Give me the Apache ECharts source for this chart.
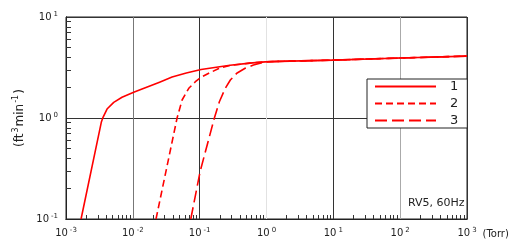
<!DOCTYPE html>
<html><head><meta charset="utf-8">
<script src="https://cdn.jsdelivr.net/npm/echarts@6/dist/echarts.min.js"></script>
<style>html,body{margin:0;padding:0;background:#fff}#c{width:516px;height:242px}</style>
</head><body><div id="c"></div>
<script>
// Curve 1 (solid)
var curve1X = [0.00168, 0.003373, 0.003581, 0.004111, 0.005176, 0.006887, 0.0103, 0.01374, 0.02512, 0.03864, 0.0631, 0.105, 0.1995, 0.2851, 0.5623, 0.9528, 1.585, 10, 100, 1000];
var curve1Y = [0.1, 0.906, 1.016, 1.227, 1.429, 1.603, 1.795, 1.936, 2.265, 2.541, 2.786, 3.02, 3.221, 3.327, 3.491, 3.597, 3.639, 3.741, 3.926, 4.102];
// Curve 2 (short dash)
var curve2X = [0.02223, 0.04592, 0.05458, 0.06871, 0.0863, 0.105, 0.1368, 0.1932, 0.2818, 0.5623, 0.9528, 1.585, 10, 100, 1000];
var curve2Y = [0.1, 1.0, 1.507, 1.968, 2.286, 2.529, 2.773, 3.09, 3.318, 3.491, 3.597, 3.639, 3.741, 3.926, 4.102];
// Curve 3 (long dash)
var curve3X = [0.07362, 0.1014, 0.166, 0.1972, 0.2415, 0.2877, 0.3589, 0.4786, 0.6368, 0.9528, 1.585, 10, 100, 1000];
var curve3Y = [0.1, 0.2938, 1.0, 1.449, 1.968, 2.377, 2.773, 3.105, 3.35, 3.597, 3.639, 3.741, 3.926, 4.102];
var seriesNames = ['1', '2', '3'];
var xMinorTicks = [];
[-3, -2, -1, 0, 1, 2].forEach(function (e) { for (var k = 2; k <= 9; k++) xMinorTicks.push(k * Math.pow(10, e)); });
var yMinorTicks = [];
[-1, 0].forEach(function (e) { for (var k = 2; k <= 9; k++) yMinorTicks.push(k * Math.pow(10, e)); });

function zip(xs, ys) { return xs.map(function (x, i) { return [x, ys[i]]; }); }
function expLabel(v) { return '{b|10}{s|' + Math.round(Math.log10(v)) + '}'; }
var labelRich = {
  b: { fontFamily: 'DejaVu Sans', fontSize: 10, color: '#222' },
  s: { fontFamily: 'DejaVu Sans', fontSize: 7, color: '#222', verticalAlign: 'top', padding: [0, 0, 6, 2] }
};
var chart = echarts.init(document.getElementById('c'), null, { renderer: 'canvas' });
chart.setOption({
  animation: false,
  backgroundColor: '#fff',
  grid: { left: 66, right: 49, top: 17, bottom: 23, show: true, borderColor: '#222', borderWidth: 1 },
  legend: {
    left: 367, top: 79, orient: 'vertical',
    itemWidth: 61, itemHeight: 10, itemGap: 4,
    padding: [1, 9, 1, 7],
    backgroundColor: '#fff', borderColor: '#222', borderWidth: 1, borderRadius: 0,
    itemStyle: { opacity: 0 },
    textStyle: { fontFamily: 'DejaVu Sans', fontSize: 13, color: '#222', lineHeight: 12, padding: [0, 0, 0, 9] },
    data: seriesNames
  },
  graphic: [{
    type: 'text', left: 408, top: 198,
    style: { text: 'RV5, 60Hz', fontFamily: 'DejaVu Sans', fontSize: 11, fill: '#222' }
  }],
  xAxis: [{
    type: 'log', logBase: 10, min: 0.001, max: 1000, interval: 1,
    name: '(Torr)', nameLocation: 'end', nameGap: 11,
    nameTextStyle: { fontFamily: 'DejaVu Sans', fontSize: 10, color: '#222', verticalAlign: 'top', padding: [10, 0, 0, 0] },
    axisLine: { show: true, lineStyle: { color: '#222', width: 1 } },
    axisTick: { show: false },
    axisLabel: { margin: 8, formatter: expLabel, rich: labelRich },
    splitLine: { show: true, lineStyle: { color: ['#333', '#777', '#333', '#e2e2e2', '#333', '#aaa', '#333'], width: 1 } }
  }, {
    type: 'log', logBase: 10, min: 0.001, max: 1000, position: 'bottom',
    axisLine: { show: true, lineStyle: { color: '#222', width: 1 } },
    axisTick: { show: true, inside: true, length: 4, customValues: xMinorTicks, lineStyle: { color: '#333' } },
    axisLabel: { show: false },
    splitLine: { show: false }
  }],
  yAxis: [{
    type: 'log', logBase: 10, min: 0.1, max: 10, interval: 1,
    name: '(ft{s|3}min{s|-1})', nameLocation: 'middle', nameGap: 32,
    nameTextStyle: { fontFamily: 'DejaVu Sans', fontSize: 12, color: '#222',
      rich: { s: { fontFamily: 'DejaVu Sans', fontSize: 8, color: '#222', verticalAlign: 'top', padding: [0, 1, 7, 1] } } },
    axisLine: { show: true, lineStyle: { color: '#222', width: 1 } },
    axisTick: { show: false },
    axisLabel: { margin: 8, formatter: expLabel, rich: labelRich },
    splitLine: { show: true, lineStyle: { color: '#333', width: 1 } }
  }, {
    type: 'log', logBase: 10, min: 0.1, max: 10, position: 'left',
    axisLine: { show: true, lineStyle: { color: '#222', width: 1 } },
    axisTick: { show: true, inside: true, length: 5, customValues: yMinorTicks, lineStyle: { color: '#333' } },
    axisLabel: { show: false },
    splitLine: { show: false }
  }],
  series: [
    { name: seriesNames[0], type: 'line', xAxisIndex: 0, yAxisIndex: 0, data: zip(curve1X, curve1Y), symbol: 'none', smooth: false,
      lineStyle: { color: '#ff0000', width: 1.6, type: 'solid', join: 'round' }, itemStyle: { color: '#ff0000' }, z: 3 },
    { name: seriesNames[1], type: 'line', xAxisIndex: 1, yAxisIndex: 1, data: zip(curve2X, curve2Y), symbol: 'none', smooth: false,
      lineStyle: { color: '#ff0000', width: 1.6, type: [7, 4], join: 'round' }, itemStyle: { color: '#ff0000' }, z: 2 },
    { name: seriesNames[2], type: 'line', xAxisIndex: 1, yAxisIndex: 1, data: zip(curve3X, curve3Y), symbol: 'none', smooth: false,
      lineStyle: { color: '#ff0000', width: 1.6, type: [12, 5], join: 'round' }, itemStyle: { color: '#ff0000' }, z: 2 }
  ]
});
</script></body></html>
